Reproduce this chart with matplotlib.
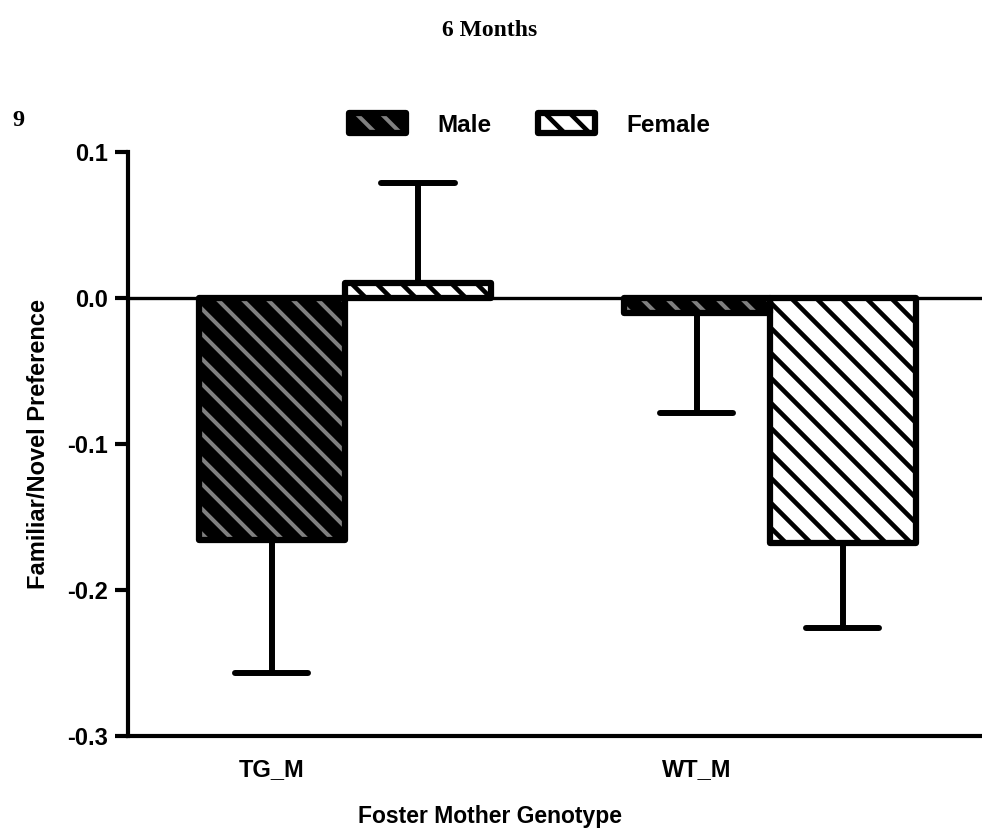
import matplotlib
matplotlib.use("Agg")
import matplotlib.pyplot as plt
import numpy as np
from matplotlib.collections import LineCollection
from matplotlib.legend_handler import HandlerBase
from matplotlib.patches import Rectangle, Patch
from matplotlib.transforms import TransformedPatchPath

# ---- data -------------------------------------------------------------
groups = ["TG_M", "WT_M"]
series = ["Male", "Female"]
male_mean = [-0.166, -0.010]
male_sem = [0.091, 0.069]
female_mean = [0.010, -0.168]
female_sem = [0.069, 0.058]
y_ticks = [-0.3, -0.2, -0.1, 0.0, 0.1]

# ---- style ------------------------------------------------------------
plt.rcParams["font.family"] = ["Liberation Sans", "DejaVu Sans"]
plt.rcParams["font.weight"] = "bold"

EDGE_LW = 4.5
HATCH_PX = 25          # horizontal spacing of hatch lines in pixels
styles = [
    dict(face="black", hatch="#808080", hatch_lw=2.9),
    dict(face="white", hatch="black", hatch_lw=3.3),
]

fig = plt.figure(figsize=(9.82, 8.32), dpi=100)
ax = fig.add_axes([0.1303, 0.1154, 0.8697, 0.7019])
ax.set_xlim(-0.511, 1.5)
ax.set_ylim(-0.3, 0.1)

x = np.arange(len(groups))
width = 0.344
offsets = [-width / 2, width / 2]
means = [male_mean, female_mean]
sems = [male_sem, female_sem]


def hatch_bars(bars, color, lw, spacing=HATCH_PX):
    """Draw back-slash hatching inside each bar, clipped to the bar."""
    inv = ax.transData.inverted()
    for rect in bars:
        bb = rect.get_window_extent()
        x0, y0, x1, y1 = bb.x0, bb.y0, bb.x1, bb.y1
        start = np.floor((x0 + y0) / spacing) * spacing
        segs = []
        for c in np.arange(start, x1 + y1 + spacing, spacing):
            pts = np.array([[x0 - 5, c - (x0 - 5)], [x1 + 5, c - (x1 + 5)]])
            segs.append(inv.transform(pts))
        lc = LineCollection(segs, colors=color, linewidths=lw, zorder=2.5,
                            capstyle="butt")
        ax.add_collection(lc, autolim=False)
        lc.set_clip_path(TransformedPatchPath(rect))


for k, (m, s, st) in enumerate(zip(means, sems, styles)):
    xpos = x + offsets[k]
    filled = ax.bar(xpos, m, width=width, color=st["face"], edgecolor="none",
                    zorder=2)
    hatch_bars(filled, st["hatch"], st["hatch_lw"])
    ax.bar(xpos, m, width=width, fill=False, edgecolor="black",
           linewidth=EDGE_LW, joinstyle="round", zorder=3)
    # one-sided error bars pointing away from zero
    tips = [v + np.sign(v) * e for v, e in zip(m, s)]
    ax.vlines(xpos, m, tips, colors="black", linewidth=4.3, zorder=1.5)
    caps = ax.hlines(tips, xpos - width / 4, xpos + width / 4, colors="black",
                     linewidth=4.3, zorder=1.5)
    caps.set_capstyle("round")

ax.axhline(0, color="black", linewidth=2.4, zorder=4)

# ---- axes -------------------------------------------------------------
for side in ("top", "right"):
    ax.spines[side].set_visible(False)
for side in ("left", "bottom"):
    ax.spines[side].set_linewidth(3)

ax.set_yticks(y_ticks)
ax.set_yticklabels([f"{v:.1f}" for v in y_ticks])
ax.set_xticks(x + offsets[0])
ax.set_xticklabels(groups)
ax.tick_params(axis="y", length=9.5, width=3, labelsize=17, pad=5)
ax.tick_params(axis="x", length=0, labelsize=17, pad=16)

ax.set_xlabel("Foster Mother Genotype", fontsize=16.5, fontweight="bold",
              labelpad=17, x=0.424)
ax.set_ylabel("Familiar/Novel Preference", fontsize=17, fontweight="bold",
              labelpad=12)


# ---- legend -----------------------------------------------------------
class HatchedHandle(HandlerBase):
    def __init__(self, face, hatch_color, hatch_lw, spacing=18):
        super().__init__()
        self.face = face
        self.hatch_color = hatch_color
        self.hatch_lw = hatch_lw
        self.spacing = spacing

    def create_artists(self, legend, orig_handle, xdescent, ydescent,
                       width, height, fontsize, trans):
        x0, y0 = -xdescent, -ydescent
        x1, y1 = x0 + width, y0 + height
        body = Rectangle((x0, y0), width, height, facecolor=self.face,
                         edgecolor="none", transform=trans)
        s = self.spacing
        start = np.floor((x0 + y0) / s) * s
        segs = [[(x0 - 3, c - (x0 - 3)), (x1 + 3, c - (x1 + 3))]
                for c in np.arange(start, x1 + y1 + s, s)]
        lc = LineCollection(segs, colors=self.hatch_color,
                            linewidths=self.hatch_lw, transform=trans)
        lc.set_clip_path(TransformedPatchPath(body))
        edge = Rectangle((x0, y0), width, height, fill=False,
                         edgecolor="black", linewidth=EDGE_LW,
                         joinstyle="round", transform=trans)
        return [body, lc, edge]


handles = [Patch(), Patch()]
handler_map = {h: HatchedHandle(st["face"], st["hatch"], st["hatch_lw"])
               for h, st in zip(handles, styles)}
fig.legend(handles, series, handler_map=handler_map, loc="center",
           bbox_to_anchor=(530 / 982, 1 - 125 / 832), ncol=2, frameon=False,
           handlelength=2.35, handleheight=0.85,
           handletextpad=1.3, columnspacing=1.9,
           prop=dict(weight="bold", size=17.5))

# ---- figure texts -----------------------------------------------------
fig.text(490 / 982, 1 - 30 / 832, "6 Months", family="Liberation Serif",
         fontweight="bold", fontsize=17, ha="center", va="center")
fig.text(12 / 982, 1 - 121 / 832, "9", family="Liberation Serif",
         fontweight="bold", fontsize=17.5, ha="left", va="center")

fig.savefig("out.png", dpi=100)
